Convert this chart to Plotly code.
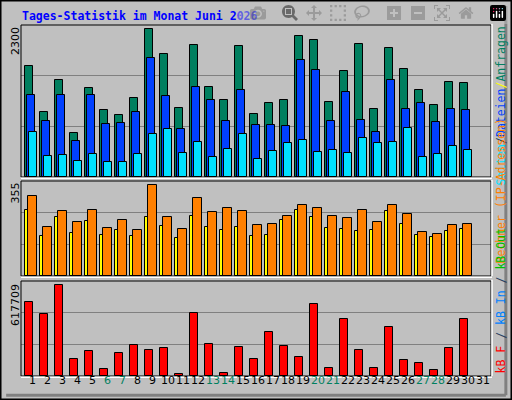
import plotly.graph_objects as go

days = list(range(1, 31))
anfragen = [1722,1020,1504,692,1379,1036,973,1223,2300,1910,1082,2050,1395,1207,2035,989,1160,1207,2191,2128,1176,1644,2066,1067,2004,1676,1348,1114,1473,1457]
dateien = [1270,879,1285,567,1270,833,848,1020,1847,1254,755,1395,1207,879,1348,817,817,801,1816,1660,879,1317,895,708,1504,1067,1145,864,1067,1051]
seiten = [708,333,349,255,364,239,239,364,677,755,380,552,317,442,677,286,411,536,583,396,427,380,614,536,552,770,317,364,489,427]
besuche = [255,154,228,166,212,158,177,154,231,193,147,235,189,177,189,154,158,216,255,228,185,181,174,177,251,204,158,150,174,181]
rechner = [309,189,251,208,255,185,216,177,355,228,181,305,247,266,251,197,201,235,274,266,235,224,258,208,274,239,170,162,197,204]
kbf = [502731,421573,617709,117229,171334,49597,157808,211914,178098,191624,15781,428336,218677,22544,198387,117229,299835,205150,130755,489205,56360,387757,178098,56360,333651,110466,90176,42834,191624,387757]
label_days = list(range(1, 32))
weekend = [6,7,13,14,20,21,27,28]
max_labels = ["2300", "355", "617709"]

GREEN, BLUE, CYAN = "#007F5F", "#0040FF", "#00E0FF"
YEL, ORA, RED = "#FFFF00", "#FF8000", "#FF0000"
BG = "#C0C0C0"

R1 = 2300*455/442
R2 = 355*287/276
R3 = 617709*285/274

def bar(y, color, off, w, ax):
    return go.Bar(x=days, y=y, offset=off, width=w, marker=dict(color=color, line=dict(color="black", width=1)),
                  xaxis="x"+ax, yaxis="y"+ax, showlegend=False, hoverinfo="skip")

fig = go.Figure()
fig.add_trace(bar(anfragen, GREEN, 0, 0.49, ""))
fig.add_trace(bar(dateien, BLUE, 0.133, 0.49, ""))
fig.add_trace(bar(seiten, CYAN, 0.267, 0.49, ""))
fig.add_trace(bar(besuche, YEL, 0, 0.33, "2"))
fig.add_trace(bar(rechner, ORA, 0.18, 0.58, "2"))
fig.add_trace(bar(kbf, RED, 0, 0.49, "3"))

xr = [0.713, 0.713+470/15]
xd = [21/512, 491/512]
doms = [[1-177/400, 1-25/400], [1-276/400, 1-181/400], [1-376/400, 1-281/400]]
Rs = [R1, R2, R3]
lay = dict(width=512, height=400, margin=dict(l=0, r=0, t=0, b=0), paper_bgcolor=BG, plot_bgcolor=BG,
           barmode="overlay", bargap=0)
for i, sfx in enumerate(["", "2", "3"]):
    lay["xaxis"+sfx] = dict(domain=xd, range=xr, showticklabels=False, showgrid=False, zeroline=False,
                           anchor="y"+sfx, fixedrange=True)
    lay["yaxis"+sfx] = dict(domain=doms[i], range=[0, Rs[i]], tickvals=[Rs[i]/3, 2*Rs[i]/3], showticklabels=False,
                           gridcolor="#808080", gridwidth=1, zeroline=False, anchor="x"+sfx)
fig.update_layout(**lay)

shapes = [dict(type="rect", xref="paper", yref="paper", x0=0.001, x1=0.999, y0=0.001, y1=0.999,
               line=dict(color="black", width=2)),
          dict(type="line", xref="paper", yref="paper", x0=0.012, x1=0.988, y0=0.012, y1=0.012,
               line=dict(color="#808080", width=3)),
          dict(type="line", xref="paper", yref="paper", x0=0.988, x1=0.988, y0=0.012, y1=0.985,
               line=dict(color="#808080", width=3))]
for d in doms:
    shapes.append(dict(type="rect", xref="paper", yref="paper", x0=xd[0], x1=xd[1], y0=d[0], y1=d[1],
                       line=dict(color="black", width=1)))
    shapes.append(dict(type="line", xref="paper", yref="paper", x0=xd[1]+0.002, x1=xd[1]+0.002, y0=d[0], y1=d[1]+0.003,
                       line=dict(color="white", width=1.5)))
    shapes.append(dict(type="line", xref="paper", yref="paper", x0=xd[0], x1=xd[1]+0.002, y0=d[0]-0.003, y1=d[0]-0.003,
                       line=dict(color="white", width=1.5)))
fig.update_layout(shapes=shapes)

ann = [dict(text="<b>Tages-Statistik im Monat Juni 2026</b>", x=20/512, y=1-16/400, xref="paper", yref="paper",
            xanchor="left", yanchor="middle", showarrow=False, font=dict(family="DejaVu Sans Mono", size=11.5, color="#0000FF"))]
for d in label_days:
    ann.append(dict(text=str(d), x=d+0.5, xref="x3", y=1-389/400, yref="paper", showarrow=False,
                    font=dict(family="DejaVu Sans", size=11, color=GREEN if d in weekend else "black")))
tops = [25, 181, 282]
for t, lbl in zip(tops, max_labels):
    ann.append(dict(text=lbl, x=15/512, y=1-t/400, xref="paper", yref="paper", xanchor="center", yanchor="top",
                    textangle=-90, showarrow=False, font=dict(family="DejaVu Sans", size=11, color="black")))
mono = dict(family="DejaVu Sans Mono", size=11.5)
ann.append(dict(text=f"<span style='color:{CYAN}'>Seiten</span>/<span style='color:{BLUE}'>Dateien</span><span style='color:{YEL}'>/</span><span style='color:{GREEN}'>Anfragen</span>",
                x=500/512, y=1-25/400, xref="paper", yref="paper", xanchor="center", yanchor="top", textangle=-90,
                showarrow=False, font=mono))
ann.append(dict(text=f"<span style='color:{ORA}'>Rechner (IP-Adressen)</span>",
                x=500/512, y=1-266/400, xref="paper", yref="paper", xanchor="center", yanchor="bottom", textangle=-90,
                showarrow=False, font=mono))
ann.append(dict(text=f"<span style='color:{RED}'>kB F</span> / <span style='color:#0080FF'>kB In</span> / <span style='color:#00C000'>kB Out</span>",
                x=500/512, y=1-376/400, xref="paper", yref="paper", xanchor="center", yanchor="bottom", textangle=-90,
                showarrow=False, font=mono))
fig.update_layout(annotations=ann)
fig.write_html("out.html", post_script="document.body.style.margin='0';document.body.style.overflow='hidden';")
